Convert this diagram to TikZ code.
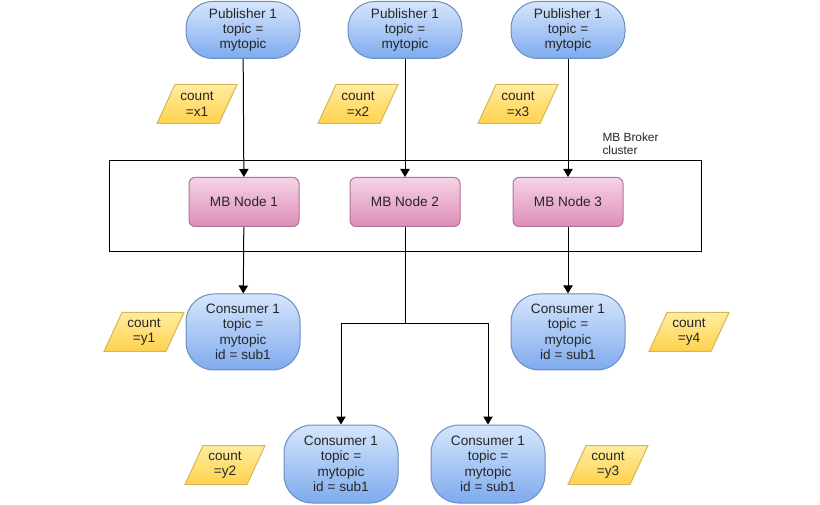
\documentclass[tikz,border=0pt]{standalone}
\usepackage{fontspec}
\setmainfont{Liberation Sans}
\usetikzlibrary{arrows.meta}

\definecolor{bluetop}{HTML}{D6E6FC}
\definecolor{bluebot}{HTML}{7EAAEE}
\definecolor{blueline}{HTML}{6C8EBF}
\definecolor{pinktop}{HTML}{F5D3E6}
\definecolor{pinkbot}{HTML}{DE8DB8}
\definecolor{pinkline}{HTML}{B5739A}
\definecolor{yellowtop}{HTML}{FFEC9E}
\definecolor{yellowbot}{HTML}{FFD24F}
\definecolor{yellowline}{HTML}{D6B656}

\begin{document}
\begin{tikzpicture}[x=0.75pt, y=-0.75pt, line width=0.75pt,
    every node/.style={font=\fontsize{10.2}{11.6}\selectfont, text=black!85, align=center, inner sep=0pt},
    client/.style={draw=blueline, top color=bluetop, bottom color=bluebot, minimum width=85.5pt},
    pubbox/.style={client, rounded corners=20pt, minimum height=42.75pt},
    conbox/.style={client, rounded corners=21pt, minimum height=57pt},
    mbbox/.style={draw=pinkline, top color=pinktop, bottom color=pinkbot, rounded corners=4.5pt, minimum width=82.5pt, minimum height=36.75pt},
    countshape/.style={draw=yellowline, top color=yellowtop, bottom color=yellowbot},
    flow/.style={-{Triangle[width=7pt,length=6pt]}}]
\useasboundingbox (0,0) rectangle (820,505);

% publishers
\node[pubbox] (pub1) at (243,30) {Publisher 1\\topic =\\mytopic};
\node[pubbox] (pub2) at (405,30) {Publisher 1\\topic =\\mytopic};
\node[pubbox] (pub3) at (568,30) {Publisher 1\\topic =\\mytopic};

% broker cluster
\draw (109,161) rectangle (701,252);
\node[anchor=north west, align=left, font=\fontsize{8.9}{9.8}\selectfont] (clusterlbl) at (602,132) {MB Broker\\cluster};
\node[mbbox] (mb1) at (244,202) {MB Node 1};
\node[mbbox] (mb2) at (405,202) {MB Node 2};
\node[mbbox] (mb3) at (568,202) {MB Node 3};

% consumers
\node[conbox] (con1) at (243,332) {Consumer 1\\topic =\\mytopic\\id = sub1};
\node[conbox] (con2) at (568,332) {Consumer 1\\topic =\\mytopic\\id = sub1};
\node[conbox, minimum height=58.5pt] (con3) at (341,464) {Consumer 1\\topic =\\mytopic\\id = sub1};
\node[conbox, minimum height=58.5pt] (con4) at (488,464) {Consumer 1\\topic =\\mytopic\\id = sub1};

% counts
\foreach \n/\x/\y/\t in {cx1/197/104/x1, cx2/358/104/x2, cx3/518/104/x3,
                         cy1/144/332/y1, cy4/689/332/y4, cy2/225/465/y2, cy3/608/465/y3} {
  \shadedraw[countshape] (\x-40,\y+19.5) -- (\x+22,\y+19.5) -- (\x+40,\y-19.5) -- (\x-22,\y-19.5) -- cycle;
  \node (\n) at (\x,\y) {count\\=\t};
}

% connectors
\draw[flow] (pub1) -- (mb1);
\draw[flow] (pub2) -- (mb2);
\draw[flow] (pub3) -- (mb3);
\draw[flow] (mb1) -- (con1);
\draw[flow] (mb3) -- (con2);
\coordinate (split) at (405,324);
\draw (mb2) -- (split);
\draw[flow] (split) -| (con3);
\draw[flow] (split) -| (con4);
\end{tikzpicture}
\end{document}
